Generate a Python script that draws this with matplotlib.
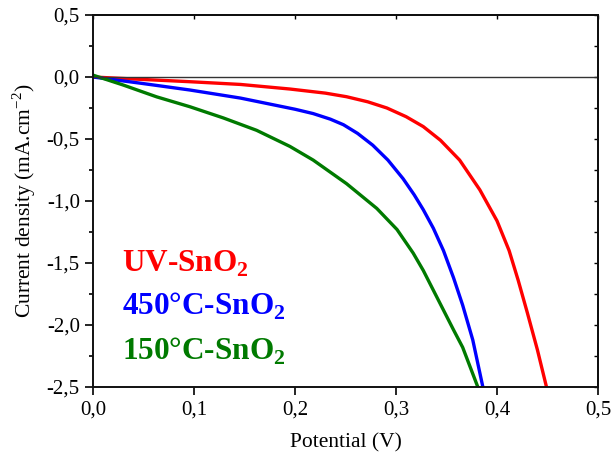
import matplotlib
matplotlib.use("Agg")
import matplotlib.pyplot as plt
from matplotlib.ticker import MultipleLocator, FuncFormatter

plt.rcParams['font.family'] = ['Liberation Serif', 'DejaVu Serif']
plt.rcParams['mathtext.fontset'] = 'custom'
plt.rcParams['mathtext.rm'] = 'Liberation Serif'
plt.rcParams['mathtext.bf'] = 'Liberation Serif:bold'

# Data (Potential V, Current density mA/cm2)
uv_v = [0.0, 0.05, 0.096, 0.146, 0.195, 0.23, 0.251, 0.272, 0.291, 0.31, 0.327, 0.344,
        0.363, 0.383, 0.40, 0.412, 0.421, 0.430, 0.440, 0.449, 0.452]
uv_j = [0.0, -0.02, -0.038, -0.06, -0.097, -0.13, -0.159, -0.20, -0.25, -0.32, -0.40, -0.51,
        -0.67, -0.91, -1.16, -1.40, -1.64, -1.90, -2.20, -2.5, -2.58]

c450_v = [0.0, 0.047, 0.096, 0.146, 0.185, 0.200, 0.218, 0.235, 0.248, 0.262, 0.277,
          0.292, 0.307, 0.318, 0.327, 0.337, 0.347, 0.357, 0.366, 0.376, 0.386, 0.388]
c450_j = [0.0, -0.05, -0.105, -0.17, -0.235, -0.26, -0.295, -0.34, -0.385, -0.455, -0.55,
          -0.67, -0.82, -0.95, -1.07, -1.22, -1.40, -1.62, -1.84, -2.12, -2.5, -2.58]

c150_v = [0.0, 0.030, 0.063, 0.096, 0.129, 0.162, 0.195, 0.218, 0.251, 0.281, 0.301,
          0.317, 0.327, 0.332, 0.357, 0.366, 0.381, 0.383]
c150_j = [0.015, -0.065, -0.16, -0.24, -0.33, -0.43, -0.56, -0.67, -0.86, -1.06, -1.23,
          -1.42, -1.56, -1.64, -2.04, -2.18, -2.5, -2.56]

series = [
    ("UV-SnO$_\\mathbf{2}$", uv_v, uv_j, "#ff0000"),
    ("450°C-SnO$_\\mathbf{2}$", c450_v, c450_j, "#0000ff"),
    ("150°C-SnO$_\\mathbf{2}$", c150_v, c150_j, "#007a00"),
]

fig = plt.figure(figsize=(6.12, 4.59), dpi=100)
ax = fig.add_axes([93/612, 1 - 387/459, (598-93)/612, (387-15)/459])

for label, v, j, col in series:
    ax.plot(v, j, color=col, lw=2.4, solid_joinstyle='round')

ax.axhline(0, color='#333333', lw=1.0)

ax.set_xlim(0, 0.5)
ax.set_ylim(-2.5, 0.5)
ax.xaxis.set_major_locator(MultipleLocator(0.1))
ax.yaxis.set_major_locator(MultipleLocator(0.5))
ax.yaxis.set_minor_locator(MultipleLocator(0.25))

fmt = FuncFormatter(lambda x, p: f"{x:.1f}".replace('.', ','))
ax.xaxis.set_major_formatter(fmt)
ax.yaxis.set_major_formatter(fmt)

ax.tick_params(axis='both', which='major', direction='out', length=6, width=1.2,
               labelsize=15, top=False, right=False)
ax.tick_params(axis='y', which='minor', direction='out', length=3, width=1.2, right=False)
ax2 = ax.secondary_yaxis('right')
ax2.yaxis.set_major_locator(MultipleLocator(0.5))
ax2.yaxis.set_minor_locator(MultipleLocator(0.25))
ax2.tick_params(which='both', direction='in', length=3, width=1.0, labelright=False)
ax3 = ax.secondary_xaxis('top')
ax3.xaxis.set_major_locator(MultipleLocator(0.1))
ax3.tick_params(which='both', direction='in', length=3, width=1.0, labeltop=False)
for a in (ax2, ax3):
    a.spines[:].set_linewidth(1.4)

for s in ax.spines.values():
    s.set_linewidth(1.4)
    s.set_color('#111111')

ax.set_xlabel("Potential (V)", fontsize=15.5, labelpad=10)
ax.set_ylabel("Current density (mA.cm$^{-2}$)", fontsize=15.5, labelpad=6)

for (label, v, j, col), yy in zip(series, [-1.57, -1.92, -2.28]):
    ax.text(0.0284, yy, label, color=col, fontsize=22.5, fontweight='bold',
            va='baseline', ha='left')

fig.savefig("out.png", dpi=100)
